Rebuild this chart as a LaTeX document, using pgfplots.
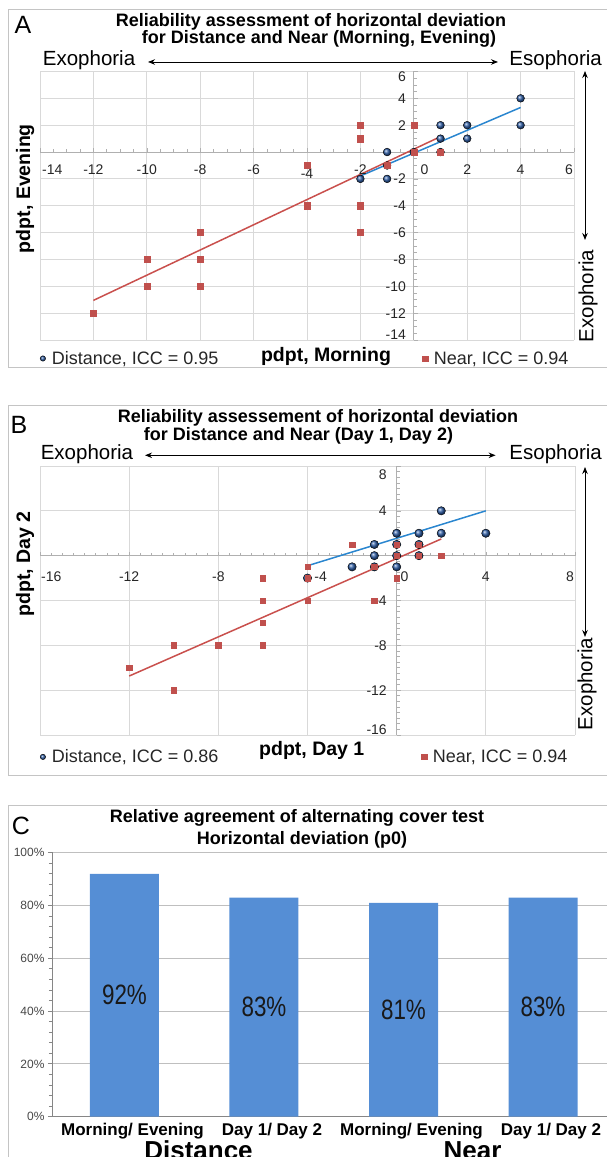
\documentclass[border=0pt]{standalone}
\usepackage{pgfplots}
\pgfplotsset{compat=1.18}
\usepackage{fontspec}
\setmainfont{Liberation Sans}
\usetikzlibrary{arrows.meta}
\definecolor{gridc}{HTML}{D9D9D9}
\definecolor{axisc}{HTML}{B0B0B0}
\definecolor{framec}{HTML}{C4C4C4}
\definecolor{ballblue}{HTML}{2F5EA6}
\definecolor{nearred}{HTML}{C0504D}
\definecolor{lineblue}{HTML}{2A86CF}
\definecolor{linered}{HTML}{C9504D}
\definecolor{barblue}{HTML}{558ED5}
\definecolor{txt}{HTML}{262626}
\definecolor{cgrid}{HTML}{BFBFBF}
\definecolor{caxis}{HTML}{868686}
\newcommand{\fs}[1]{\fontsize{#1}{#1}\selectfont}

\pgfplotstableread{
x y
4 4
4 2
1 2
2 2
1 1
2 1
-1 0
0 0
1 0
-1 -1
-2 -2
-1 -2
}\distA
\pgfplotstableread{
x y
-12 -12
-10 -8
-10 -10
-8 -6
-8 -8
-8 -10
-4 -1
-4 -4
-2 2
-2 1
-2 -4
-2 -6
-1 -1
0 2
0 0
1 0
}\nearA
\pgfplotstableread{
x y
2 4
4 2
2 2
1 2
0 2
-1 1
0 1
1 1
-1 0
0 0
1 0
-2 -1
-1 -1
0 -1
-4 -2
}\distB
\pgfplotstableread{
x y
-12 -10
-10 -8
-10 -12
-8 -8
-6 -2
-6 -4
-6 -6
-6 -8
-4 -1
-4 -2
-4 -4
-2 1
-1 -1
-1 -4
0 1
0 0
0 -2
1 1
1 0
2 0
}\nearB

\tikzset{tl/.style={font=\fs{14}, text=txt, inner sep=0pt},
  dblarrow/.style={{Stealth[length=7pt,width=5.5pt]}-{Stealth[length=7pt,width=5.5pt]}, line width=0.9pt}}
\pgfplotsset{
  scatterax/.style={
    scale only axis, axis lines=middle,
    axis line style={-, axisc, line width=0.9pt},
    xticklabels={}, yticklabels={},
    tick align=inside, major tick length=4pt, minor tick length=3pt,
    tick style={axisc, line width=0.6pt},
    grid=major, major grid style={gridc, line width=0.9pt},
    clip=false,
    xlabel style={font=\bfseries\fs{19.5}, text=black, anchor=center},
    ylabel style={font=\bfseries\fs{19.5}, text=black, anchor=center, rotate=90},
    legend image code/.code={\draw[mark repeat=1,mark phase=1,#1,mark size=2.7pt] plot coordinates {(0pt,0pt)};},
    legend style={draw=none, fill=none, inner sep=0pt, outer sep=0pt, anchor=west,
      legend columns=2, font=\fs{18}, text=txt, nodes={inner sep=1pt},
      /tikz/every odd column/.append style={column sep=5pt}},
  },
  distmark/.style={only marks, mark=ball, mark size=#1, mark options={ball color=ballblue}},
  nearmark/.style={only marks, mark=square*, mark size=#1, mark options={fill=nearred, draw=nearred}},
}

\begin{document}
\begin{tikzpicture}
\begin{scope}
\clip (0pt,0pt) rectangle (607pt,1157pt);

\begin{scope}[x=1pt,y=1pt]
% ---------------- Panel A decorations ----------------
\draw[framec, line width=1pt] (8,1147) rectangle (640,789);
\node[font=\fs{25}, inner sep=0pt] at (23,1132) {A};
\node[font=\bfseries\fs{18}, anchor=base, inner sep=0pt] at (311,1130.3) {Reliability assessment of horizontal deviation};
\node[font=\bfseries\fs{18}, anchor=base, inner sep=0pt] at (319,1113.7) {for Distance and Near (Morning, Evening)};
\node[font=\fs{20.5}, anchor=base west, inner sep=0pt] at (42.7,1091) {Exophoria};
\node[font=\fs{20.5}, anchor=base east, inner sep=0pt] at (602,1091) {Esophoria};
\draw[dblarrow] (148,1095) -- (498,1095);
\draw[dblarrow] (585,1086) -- (585,917);
\node[font=\fs{20.5}, rotate=90, inner sep=0pt] at (588,861) {Exophoria};
% ---------------- Panel B decorations ----------------
\draw[framec, line width=1pt] (8,751) rectangle (640,381);
\node[font=\fs{25}, inner sep=0pt] at (19,732) {B};
\node[font=\bfseries\fs{18}, anchor=base, inner sep=0pt] at (318,734.3) {Reliability assessement of horizontal deviation};
\node[font=\bfseries\fs{18}, anchor=base, inner sep=0pt] at (298.5,716) {for Distance and Near (Day 1, Day 2)};
\node[font=\fs{20.5}, anchor=base west, inner sep=0pt] at (40.6,697.5) {Exophoria};
\node[font=\fs{20.5}, anchor=base east, inner sep=0pt] at (602,697.5) {Esophoria};
\draw[dblarrow] (145,701.7) -- (495.6,701.7);
\draw[dblarrow] (585,690) -- (585,520);
\node[font=\fs{20.5}, rotate=90, inner sep=0pt] at (587,473) {Exophoria};
% ---------------- Panel C decorations ----------------
\draw[framec, line width=1pt] (8,351) rectangle (640,-20);
\node[font=\fs{25}, inner sep=0pt] at (21,331) {C};
\node[font=\bfseries\fs{18}, anchor=base, inner sep=0pt] at (297,334.3) {Relative agreement of alternating cover test};
\node[font=\bfseries\fs{18}, anchor=base, inner sep=0pt] at (302,312.7) {Horizontal deviation (p0)};
\node[font=\bfseries\fs{26}, anchor=base, inner sep=0pt] at (198.5,-2) {Distance};
\node[font=\bfseries\fs{26}, anchor=base, inner sep=0pt] at (472.5,-2) {Near};
\end{scope}

% ---------------- Panel A axis ----------------
\begin{axis}[scatterax,
  at={(40pt,817pt)}, anchor=south west, width=534pt, height=268.5pt,
  xmin=-14, xmax=6, ymin=-14, ymax=6,
  xtick={-14,-12,...,6}, ytick={-14,-12,...,6},
  minor x tick num=3, minor y tick num=3,
  xlabel={pdpt, Morning}, xlabel style={at={(axis description cs:0.5356,-0.062)}},
  ylabel={pdpt, Evening}, ylabel style={at={(axis description cs:-0.028,0.564)}},
  legend style={at={(axis description cs:0,-0.0689)},
    /tikz/every even column/.append style={column sep=203pt}},
]
\addplot[lineblue, line width=1.5pt, forget plot] coordinates {(-2,-1.78) (4,3.32)};
\addplot[linered, line width=1.5pt, forget plot] coordinates {(-12,-11.05) (1,1.15)};
\addplot[distmark=3.9pt] table {\distA};
\addlegendentry{Distance, ICC = 0.95}
\addplot[nearmark=3.1pt] table {\nearA};
\addlegendentry{Near, ICC = 0.94}
\node[tl, anchor=west] at (axis cs:-14,0) [xshift=2pt, yshift=-17.6pt] {-14};
\node[tl] at (axis cs:-12,0) [yshift=-17.6pt] {-12};
\node[tl] at (axis cs:-10,0) [yshift=-17.6pt] {-10};
\node[tl] at (axis cs:-8,0) [yshift=-17.6pt] {-8};
\node[tl] at (axis cs:-6,0) [yshift=-17.6pt] {-6};
\node[tl] at (axis cs:-4,0) [yshift=-21.6pt] {-4};
\node[tl] at (axis cs:-2,0) [yshift=-17.6pt] {-2};
\node[tl] at (axis cs:0.40,0) [yshift=-17.6pt] {0};
\node[tl] at (axis cs:2,0) [yshift=-17.6pt] {2};
\node[tl] at (axis cs:4,0) [yshift=-17.6pt] {4};
\node[tl, anchor=east] at (axis cs:6,0) [xshift=-1pt, yshift=-17.6pt] {6};
\node[tl, anchor=north east] at (axis cs:0,6) [xshift=-7.7pt] {6};
\node[tl, anchor=east] at (axis cs:0,4) [xshift=-7.7pt] {4};
\node[tl, anchor=east] at (axis cs:0,2) [xshift=-7.7pt] {2};
\node[tl, anchor=east] at (axis cs:0,-2) [xshift=-7.7pt] {-2};
\node[tl, anchor=east] at (axis cs:0,-4) [xshift=-7.7pt] {-4};
\node[tl, anchor=east] at (axis cs:0,-6) [xshift=-7.7pt] {-6};
\node[tl, anchor=east] at (axis cs:0,-8) [xshift=-7.7pt] {-8};
\node[tl, anchor=east] at (axis cs:0,-10) [xshift=-7.7pt] {-10};
\node[tl, anchor=east] at (axis cs:0,-12) [xshift=-7.7pt] {-12};
\node[tl, anchor=south east] at (axis cs:0,-14) [xshift=-7.7pt] {-14};
\end{axis}

% ---------------- Panel B axis ----------------
\begin{axis}[scatterax,
  at={(40pt,422pt)}, anchor=south west, width=535pt, height=269pt,
  xmin=-16, xmax=8, ymin=-16, ymax=8,
  xtick={-16,-12,...,8}, ytick={-16,-12,...,8},
  minor x tick num=7, minor y tick num=7,
  xlabel={pdpt, Day 1}, xlabel style={at={(axis description cs:0.508,-0.056)}},
  ylabel={pdpt, Day 2}, ylabel style={at={(axis description cs:-0.028,0.636)}},
  legend style={at={(axis description cs:0,-0.0814)},
    /tikz/every even column/.append style={column sep=202pt}},
]
\addplot[lineblue, line width=1.5pt, forget plot] coordinates {(-4,-0.9) (4,4.0)};
\addplot[linered, line width=1.5pt, forget plot] coordinates {(-12,-10.74) (2,1.49)};
\addplot[distmark=4.2pt] table {\distB};
\addlegendentry{Distance, ICC = 0.86}
\addplot[nearmark=2.7pt] table {\nearB};
\addlegendentry{Near, ICC = 0.94}
\node[tl, anchor=west] at (axis cs:-16,0) [xshift=1pt, yshift=-20.7pt] {-16};
\node[tl] at (axis cs:-12,0) [yshift=-20.7pt] {-12};
\node[tl] at (axis cs:-8,0) [yshift=-20.7pt] {-8};
\node[tl] at (axis cs:-3.41,0) [yshift=-20.7pt] {-4};
\node[tl] at (axis cs:0.35,0) [yshift=-20.7pt] {0};
\node[tl] at (axis cs:4,0) [yshift=-20.7pt] {4};
\node[tl, anchor=east] at (axis cs:8,0) [xshift=-1pt, yshift=-20.7pt] {8};
\node[tl, anchor=north east] at (axis cs:0,8) [xshift=-9.7pt, yshift=-4pt] {8};
\node[tl, anchor=east] at (axis cs:0,4) [xshift=-9.7pt] {4};
\node[tl, anchor=east] at (axis cs:0,-4) [xshift=-9.7pt] {-4};
\node[tl, anchor=east] at (axis cs:0,-8) [xshift=-9.7pt] {-8};
\node[tl, anchor=east] at (axis cs:0,-12) [xshift=-9.7pt] {-12};
\node[tl, anchor=south east] at (axis cs:0,-16) [xshift=-9.7pt] {-16};
\end{axis}

% ---------------- Panel C axis ----------------
\begin{axis}[
  at={(53pt,40.3pt)}, anchor=south west, scale only axis, width=573.7pt, height=264pt,
  xmin=-0.5125, xmax=3.6, ymin=0, ymax=100,
  ybar, bar width=69pt, bar shift=0pt,
  axis x line*=bottom, axis y line*=left,
  axis line style={-, caxis, line width=1pt},
  ytick={0,20,...,100}, yticklabels={0\%,20\%,40\%,60\%,80\%,100\%},
  minor y tick num=4,
  ymajorgrids, major grid style={cgrid, line width=1pt},
  yticklabel style={font=\fs{12}, text=txt!85},
  tick align=outside, major tick length=5pt, minor tick length=4pt,
  y tick style={caxis, line width=0.8pt},
  xtick={0,1,2,3}, xticklabels={Morning/ Evening, Day 1/ Day 2, Morning/ Evening, Day 1/ Day 2},
  x tick style={draw=none}, major x tick style={draw=none},
  xticklabel style={font=\bfseries\fs{17}, text=black, anchor=base, xshift=8pt, yshift=-14pt},
  clip=false,
]
\addplot[fill=barblue, draw=none] coordinates {(0,92) (1,83) (2,81) (3,83)};
\node[font=\fs{28}, text=black!90] at (axis cs:0,46) {\scalebox{0.8}[1]{92\%}};
\node[font=\fs{28}, text=black!90] at (axis cs:1,41.5) {\scalebox{0.8}[1]{83\%}};
\node[font=\fs{28}, text=black!90] at (axis cs:2,40.5) {\scalebox{0.8}[1]{81\%}};
\node[font=\fs{28}, text=black!90] at (axis cs:3,41.5) {\scalebox{0.8}[1]{83\%}};
\end{axis}
\end{scope}
\pgfresetboundingbox
\path[use as bounding box] (0pt,0pt) rectangle (607pt,1157pt);
\end{tikzpicture}
\end{document}
